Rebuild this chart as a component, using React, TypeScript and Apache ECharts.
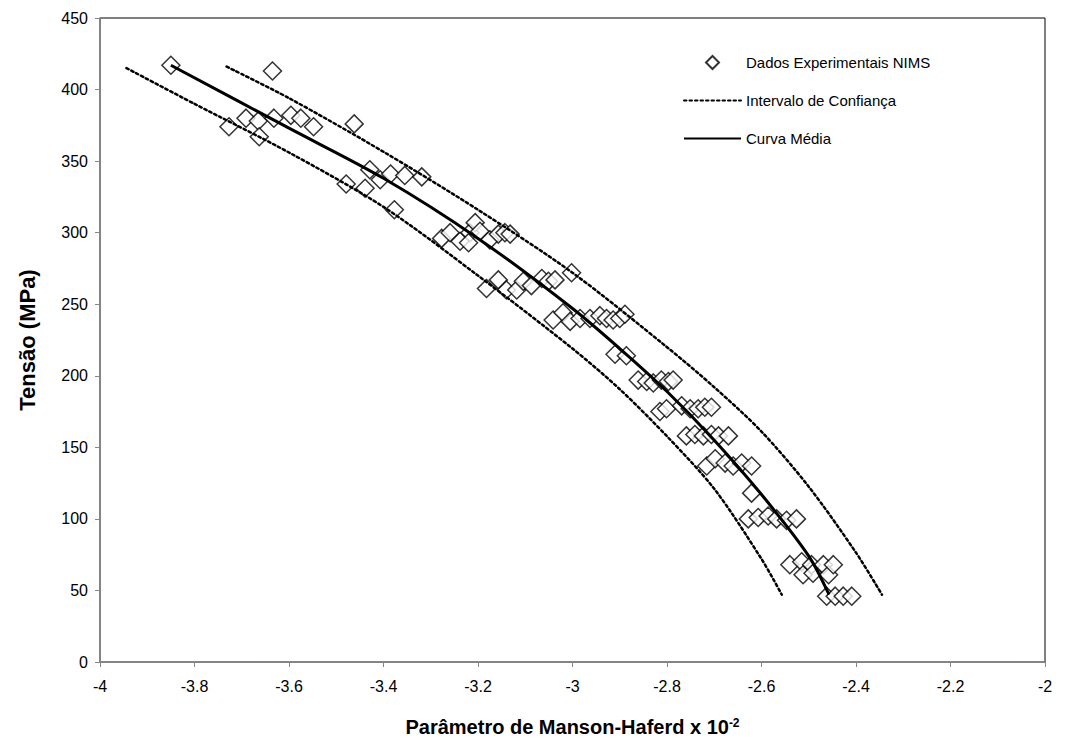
import React, { useEffect, useRef } from "react";
import * as echarts from "echarts";

// Experimental data (Dados Experimentais NIMS)
const expX = [
  -3.85, -3.635,
  -3.727, -3.691, -3.665, -3.663, -3.632, -3.596, -3.575, -3.548, -3.462,
  -3.429, -3.407, -3.385, -3.355, -3.319,
  -3.479, -3.439, -3.377,
  -3.277, -3.259, -3.238, -3.217, -3.206, -3.196, -3.22, -3.175, -3.157, -3.143, -3.132,
  -3.182, -3.157, -3.14, -3.118, -3.104, -3.087, -3.065, -3.051, -3.037, -3.002,
  -3.041, -3.02, -3.005, -2.984, -2.963, -2.942, -2.928, -2.914, -2.9, -2.889,
  -2.91, -2.886,
  -2.861, -2.843, -2.829, -2.812, -2.797, -2.787,
  -2.815, -2.801, -2.769, -2.751, -2.734, -2.72, -2.706,
  -2.759, -2.741, -2.723, -2.706, -2.691, -2.67,
  -2.716, -2.698, -2.677, -2.66, -2.642, -2.621,
  -2.621,
  -2.628, -2.607, -2.586, -2.568, -2.547, -2.526,
  -2.54, -2.515, -2.512, -2.494, -2.491, -2.469, -2.458, -2.448,
  -2.462, -2.444, -2.427, -2.409,
];
const expY = [
  417, 413,
  374, 380, 378, 367, 380, 382, 380, 374, 376,
  344, 337, 341, 340, 339,
  334, 331, 316,
  296, 300, 294, 300, 307, 301, 293, 295, 299, 300, 299,
  261, 267, 260, 260, 266, 263, 268, 266, 267, 272,
  239, 244, 238, 240, 240, 242, 240, 239, 240, 243,
  215, 214,
  197, 196, 195, 197, 196, 197,
  175, 177, 179, 177, 177, 178, 178,
  158, 159, 158, 159, 158, 158,
  137, 142, 139, 137, 139, 137,
  118,
  100, 101, 102, 100, 99, 100,
  68, 70, 61, 68, 62, 68, 61, 68,
  46, 46, 46, 46,
];

// Mean curve (Curva Média)
const meanX = [-3.85, -3.6, -3.4, -3.2, -3.0, -2.9, -2.8, -2.7, -2.6, -2.5, -2.457];
const meanY = [417, 373, 338, 296, 247, 219, 189, 155, 117, 74, 47];

// Confidence interval (Intervalo de Confiança) - lower and upper
const lowX = [-3.944, -3.8, -3.6, -3.4, -3.2, -3.0, -2.9, -2.8, -2.7, -2.6, -2.557];
const lowY = [415, 390, 356, 318, 270, 219, 190.6, 157.7, 121, 72, 47];
const upX = [-3.732, -3.6, -3.4, -3.2, -3.0, -2.8, -2.7, -2.6, -2.5, -2.4, -2.345];
const upY = [416, 394, 356.5, 316, 272, 220, 192, 161, 122.5, 76.4, 47];

const zip = (xs: number[], ys: number[]) => xs.map((x, i) => [x, ys[i]]);

const FONT = '"Liberation Sans", Arial, sans-serif';
const NAME_EXP = "Dados Experimentais NIMS";
const NAME_CI = "Intervalo de Confiança";
const NAME_MEAN = "Curva Média";

export default function App() {
  const ref = useRef<HTMLDivElement>(null);
  useEffect(() => {
    if (!ref.current) return;
    const chart = echarts.init(ref.current, null, { renderer: "svg" });
    const dotted = { color: "#000", width: 2.5, type: [2.5, 3] as any, cap: "round" as any };
    chart.setOption({
      animation: false,
      backgroundColor: "#fff",
      textStyle: { fontFamily: FONT },
      grid: {
        left: 100,
        right: 25,
        top: 18,
        bottom: 79,
        show: true,
        borderColor: "#000",
        borderWidth: 1,
      },
      legend: {
        orient: "vertical",
        left: 678,
        top: 50,
        itemWidth: 57,
        itemHeight: 13,
        itemGap: 23,
        data: [
          { name: NAME_EXP, icon: "path://M6,0 L12,6 L6,12 L0,6 Z" },
          { name: NAME_CI, itemStyle: { opacity: 0 } },
          { name: NAME_MEAN, itemStyle: { opacity: 0 } },
        ],
        textStyle: { fontFamily: FONT, fontSize: 15, color: "#000" },
      },
      xAxis: {
        type: "value",
        min: -4,
        max: -2,
        interval: 0.2,
        name: "{a|Parâmetro de Manson-Haferd x 10}{s|-2}",
        nameLocation: "middle",
        nameGap: 55,
        nameTextStyle: {
          rich: {
            a: { fontFamily: FONT, fontSize: 20, fontWeight: "bold", color: "#000" },
            s: { fontFamily: FONT, fontSize: 12, fontWeight: "bold", color: "#000", verticalAlign: "top" },
          },
        },
        axisLine: { show: true, onZero: false, lineStyle: { color: "#868686", width: 1.5 } },
        axisTick: { show: true, inside: false, length: 5, lineStyle: { color: "#868686" } },
        splitLine: { show: false },
        axisLabel: {
          fontFamily: FONT,
          fontSize: 16,
          color: "#000",
          margin: 16,
          formatter: (v: number) => String(Math.round(v * 10) / 10),
        },
      },
      yAxis: {
        type: "value",
        min: 0,
        max: 450,
        interval: 50,
        name: "Tensão (MPa)",
        nameLocation: "middle",
        nameGap: 62,
        nameTextStyle: { fontFamily: FONT, fontSize: 22, fontWeight: "bold", color: "#000" },
        axisLine: { show: true, lineStyle: { color: "#868686", width: 1.5 } },
        axisTick: { show: true, inside: false, length: 5, lineStyle: { color: "#868686" } },
        splitLine: { show: false },
        axisLabel: { fontFamily: FONT, fontSize: 16, color: "#000", margin: 12 },
      },
      series: [
        {
          name: NAME_EXP,
          type: "scatter",
          symbol: "diamond",
          symbolSize: 18,
          z: 2,
          itemStyle: { color: "#fff", borderColor: "#000", borderWidth: 1.5 },
          data: zip(expX, expY),
        },
        {
          name: NAME_CI,
          type: "line",
          smooth: 0.3,
          showSymbol: false,
          symbol: "none",
          z: 3,
          lineStyle: dotted,
          itemStyle: { color: "#000" },
          data: zip(lowX, lowY),
        },
        {
          name: NAME_CI,
          type: "line",
          smooth: 0.3,
          showSymbol: false,
          symbol: "none",
          z: 3,
          lineStyle: dotted,
          itemStyle: { color: "#000" },
          data: zip(upX, upY),
        },
        {
          name: NAME_MEAN,
          type: "line",
          smooth: 0.3,
          showSymbol: false,
          symbol: "none",
          z: 4,
          lineStyle: { color: "#000", width: 3 },
          itemStyle: { color: "#000" },
          data: zip(meanX, meanY),
        },
      ],
    });
    return () => chart.dispose();
  }, []);
  return (
    <div
      ref={ref}
      style={{ position: "fixed", left: 0, top: 0, width: 1070, height: 742, background: "#fff" }}
    />
  );
}
